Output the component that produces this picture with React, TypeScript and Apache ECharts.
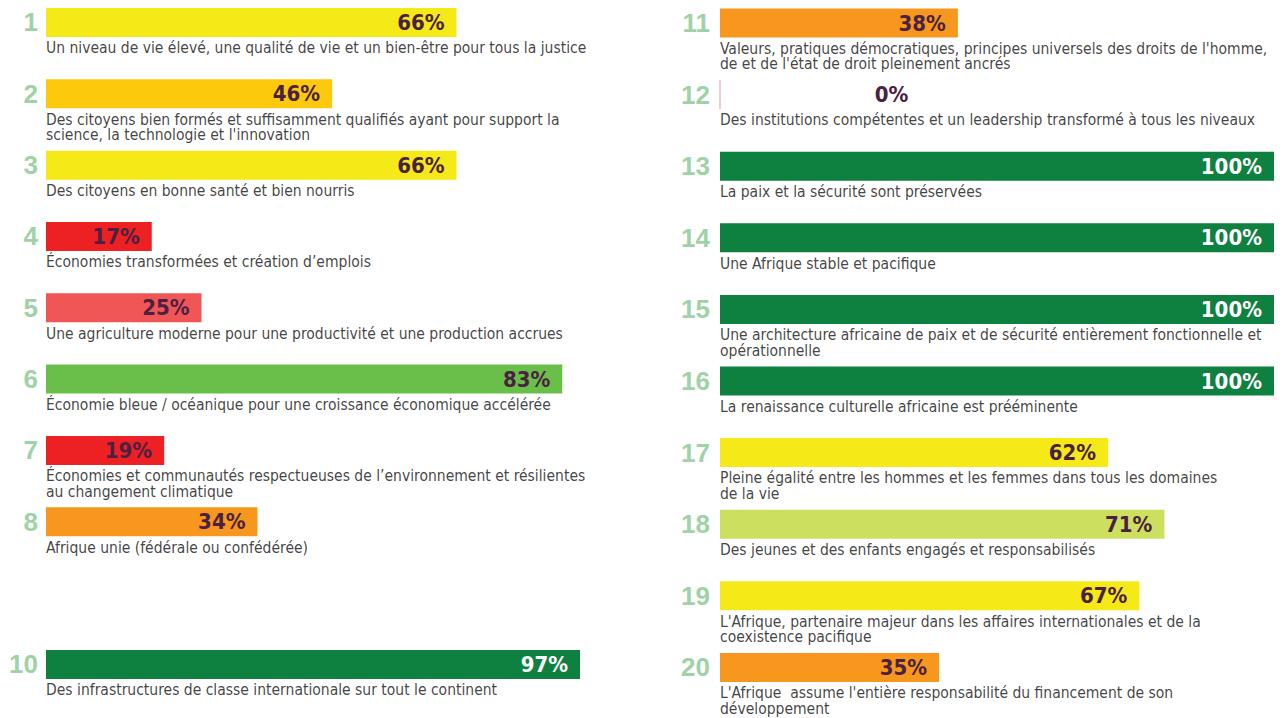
import { useEffect, useRef } from 'react';
import * as echarts from 'echarts';

// Left column
const leftNumbers = ['1', '2', '3', '4', '5', '6', '7', '8', '', '10'];
const leftValues: (number | null)[] = [66, 46, 66, 17, 25, 83, 19, 34, null, 97];
const leftColors = ['#f5e917', '#fdc90d', '#f5e917', '#ed2024', '#f05656', '#6abf4b', '#ed2024', '#f7971e', '#ffffff', '#0e8140'];
const leftDescriptions = [
  'Un niveau de vie élevé, une qualité de vie et un bien-être pour tous la justice',
  'Des citoyens bien formés et suffisamment qualifiés ayant pour support la\nscience, la technologie et l\'innovation',
  'Des citoyens en bonne santé et bien nourris',
  'Économies transformées et création d’emplois',
  'Une agriculture moderne pour une productivité et une production accrues',
  'Économie bleue / océanique pour une croissance économique accélérée',
  'Économies et communautés respectueuses de l’environnement et résilientes\nau changement climatique',
  'Afrique unie (fédérale ou confédérée)',
  '',
  'Des infrastructures de classe internationale sur tout le continent',
];

// Right column
const rightNumbers = ['11', '12', '13', '14', '15', '16', '17', '18', '19', '20'];
const rightValues = [38, 0, 100, 100, 100, 100, 62, 71, 67, 35];
const rightColors = ['#f7971e', '#f4b6c0', '#0e8140', '#0e8140', '#0e8140', '#0e8140', '#f5e917', '#cddf5f', '#f5e917', '#f7971e'];
const rightDescriptions = [
  'Valeurs, pratiques démocratiques, principes universels des droits de l\'homme,\nde et de l\'état de droit pleinement ancrés',
  'Des institutions compétentes et un leadership transformé à tous les niveaux',
  'La paix et la sécurité sont préservées',
  'Une Afrique stable et pacifique',
  'Une architecture africaine de paix et de sécurité entièrement fonctionnelle et\nopérationnelle',
  'La renaissance culturelle africaine est prééminente',
  'Pleine égalité entre les hommes et les femmes dans tous les domaines\nde la vie',
  'Des jeunes et des enfants engagés et responsabilisés',
  'L\'Afrique, partenaire majeur dans les affaires internationales et de la\ncoexistence pacifique',
  'L\'Afrique  assume l\'entière responsabilité du financement de son\ndéveloppement',
];

const NARROW = "'DejaVu Sans Condensed', 'Roboto Condensed', Roboto, sans-serif";
const LABEL_DARK = '#4b2142';
const DARK_GREEN = '#0e8140';

function barData(values: (number | null)[], colors: string[]) {
  return values.map((v, i) => {
    if (v === null) return { value: '-' };
    const item: any = {
      value: v,
      itemStyle: { color: colors[i] },
      label: { color: colors[i] === DARK_GREEN ? '#ffffff' : LABEL_DARK },
    };
    if (v === 0) {
      item.itemStyle = { color: colors[i], borderColor: colors[i], borderWidth: 1 };
      item.label = { color: LABEL_DARK, position: [172, 15], align: 'center', verticalAlign: 'middle' };
    }
    return item;
  });
}

function descSeries(idx: number, descs: string[]) {
  return {
    type: 'scatter',
    xAxisIndex: idx,
    yAxisIndex: idx,
    symbolSize: 1,
    clip: false,
    silent: true,
    itemStyle: { color: 'transparent' },
    data: descs.map((_, i) => [0, i]),
    label: {
      show: true,
      position: [0.5, 18.5],
      align: 'left',
      verticalAlign: 'top',
      fontFamily: NARROW,
      fontSize: 15.5,
      lineHeight: 15.5,
      color: '#111111',
      formatter: (p: any) => descs[p.dataIndex],
    },
  };
}

function barSeries(idx: number, values: (number | null)[], colors: string[]) {
  return {
    type: 'bar',
    xAxisIndex: idx,
    yAxisIndex: idx,
    barWidth: 29,
    data: barData(values, colors),
    label: {
      show: true,
      position: 'insideRight',
      distance: 12,
      fontFamily: NARROW,
      fontWeight: 'bold',
      fontSize: 22,
      formatter: (p: any) => `${p.value}%`,
    },
  };
}

export default function App() {
  const ref = useRef<HTMLDivElement>(null);
  useEffect(() => {
    document.body.style.margin = '0';
    const chart = echarts.init(ref.current!, null, { renderer: 'svg' });
    const yAxisBase = {
      type: 'category',
      inverse: true,
      axisLine: { show: false },
      axisTick: { show: false },
      splitLine: { show: false },
      axisLabel: {
        color: '#9fd2a7',
        fontWeight: 'bold',
        fontSize: 26,
        fontFamily: "'Liberation Sans', Arial, sans-serif",
      },
    };
    chart.setOption({
      animation: false,
      backgroundColor: '#ffffff',
      grid: [
        { left: 46, width: 534, top: -13.2, height: 713.3, outerBoundsMode: 'none', containLabel: false },
        { left: 720, width: 554, top: -12.8, height: 716, outerBoundsMode: 'none', containLabel: false },
      ],
      xAxis: [
        { type: 'value', gridIndex: 0, min: 0, max: 85.85, show: false },
        { type: 'value', gridIndex: 1, min: 0, max: 88.5, show: false },
      ],
      yAxis: [
        { ...yAxisBase, gridIndex: 0, data: leftNumbers, axisLabel: { ...yAxisBase.axisLabel, margin: 8 } },
        { ...yAxisBase, gridIndex: 1, data: rightNumbers, axisLabel: { ...yAxisBase.axisLabel, margin: 10 } },
      ],
      series: [
        barSeries(0, leftValues, leftColors),
        barSeries(1, rightValues, rightColors),
        descSeries(0, leftDescriptions),
        descSeries(1, rightDescriptions),
      ],
    });
    return () => chart.dispose();
  }, []);
  return <div ref={ref} style={{ width: 1287, height: 718, background: '#ffffff' }} />;
}
